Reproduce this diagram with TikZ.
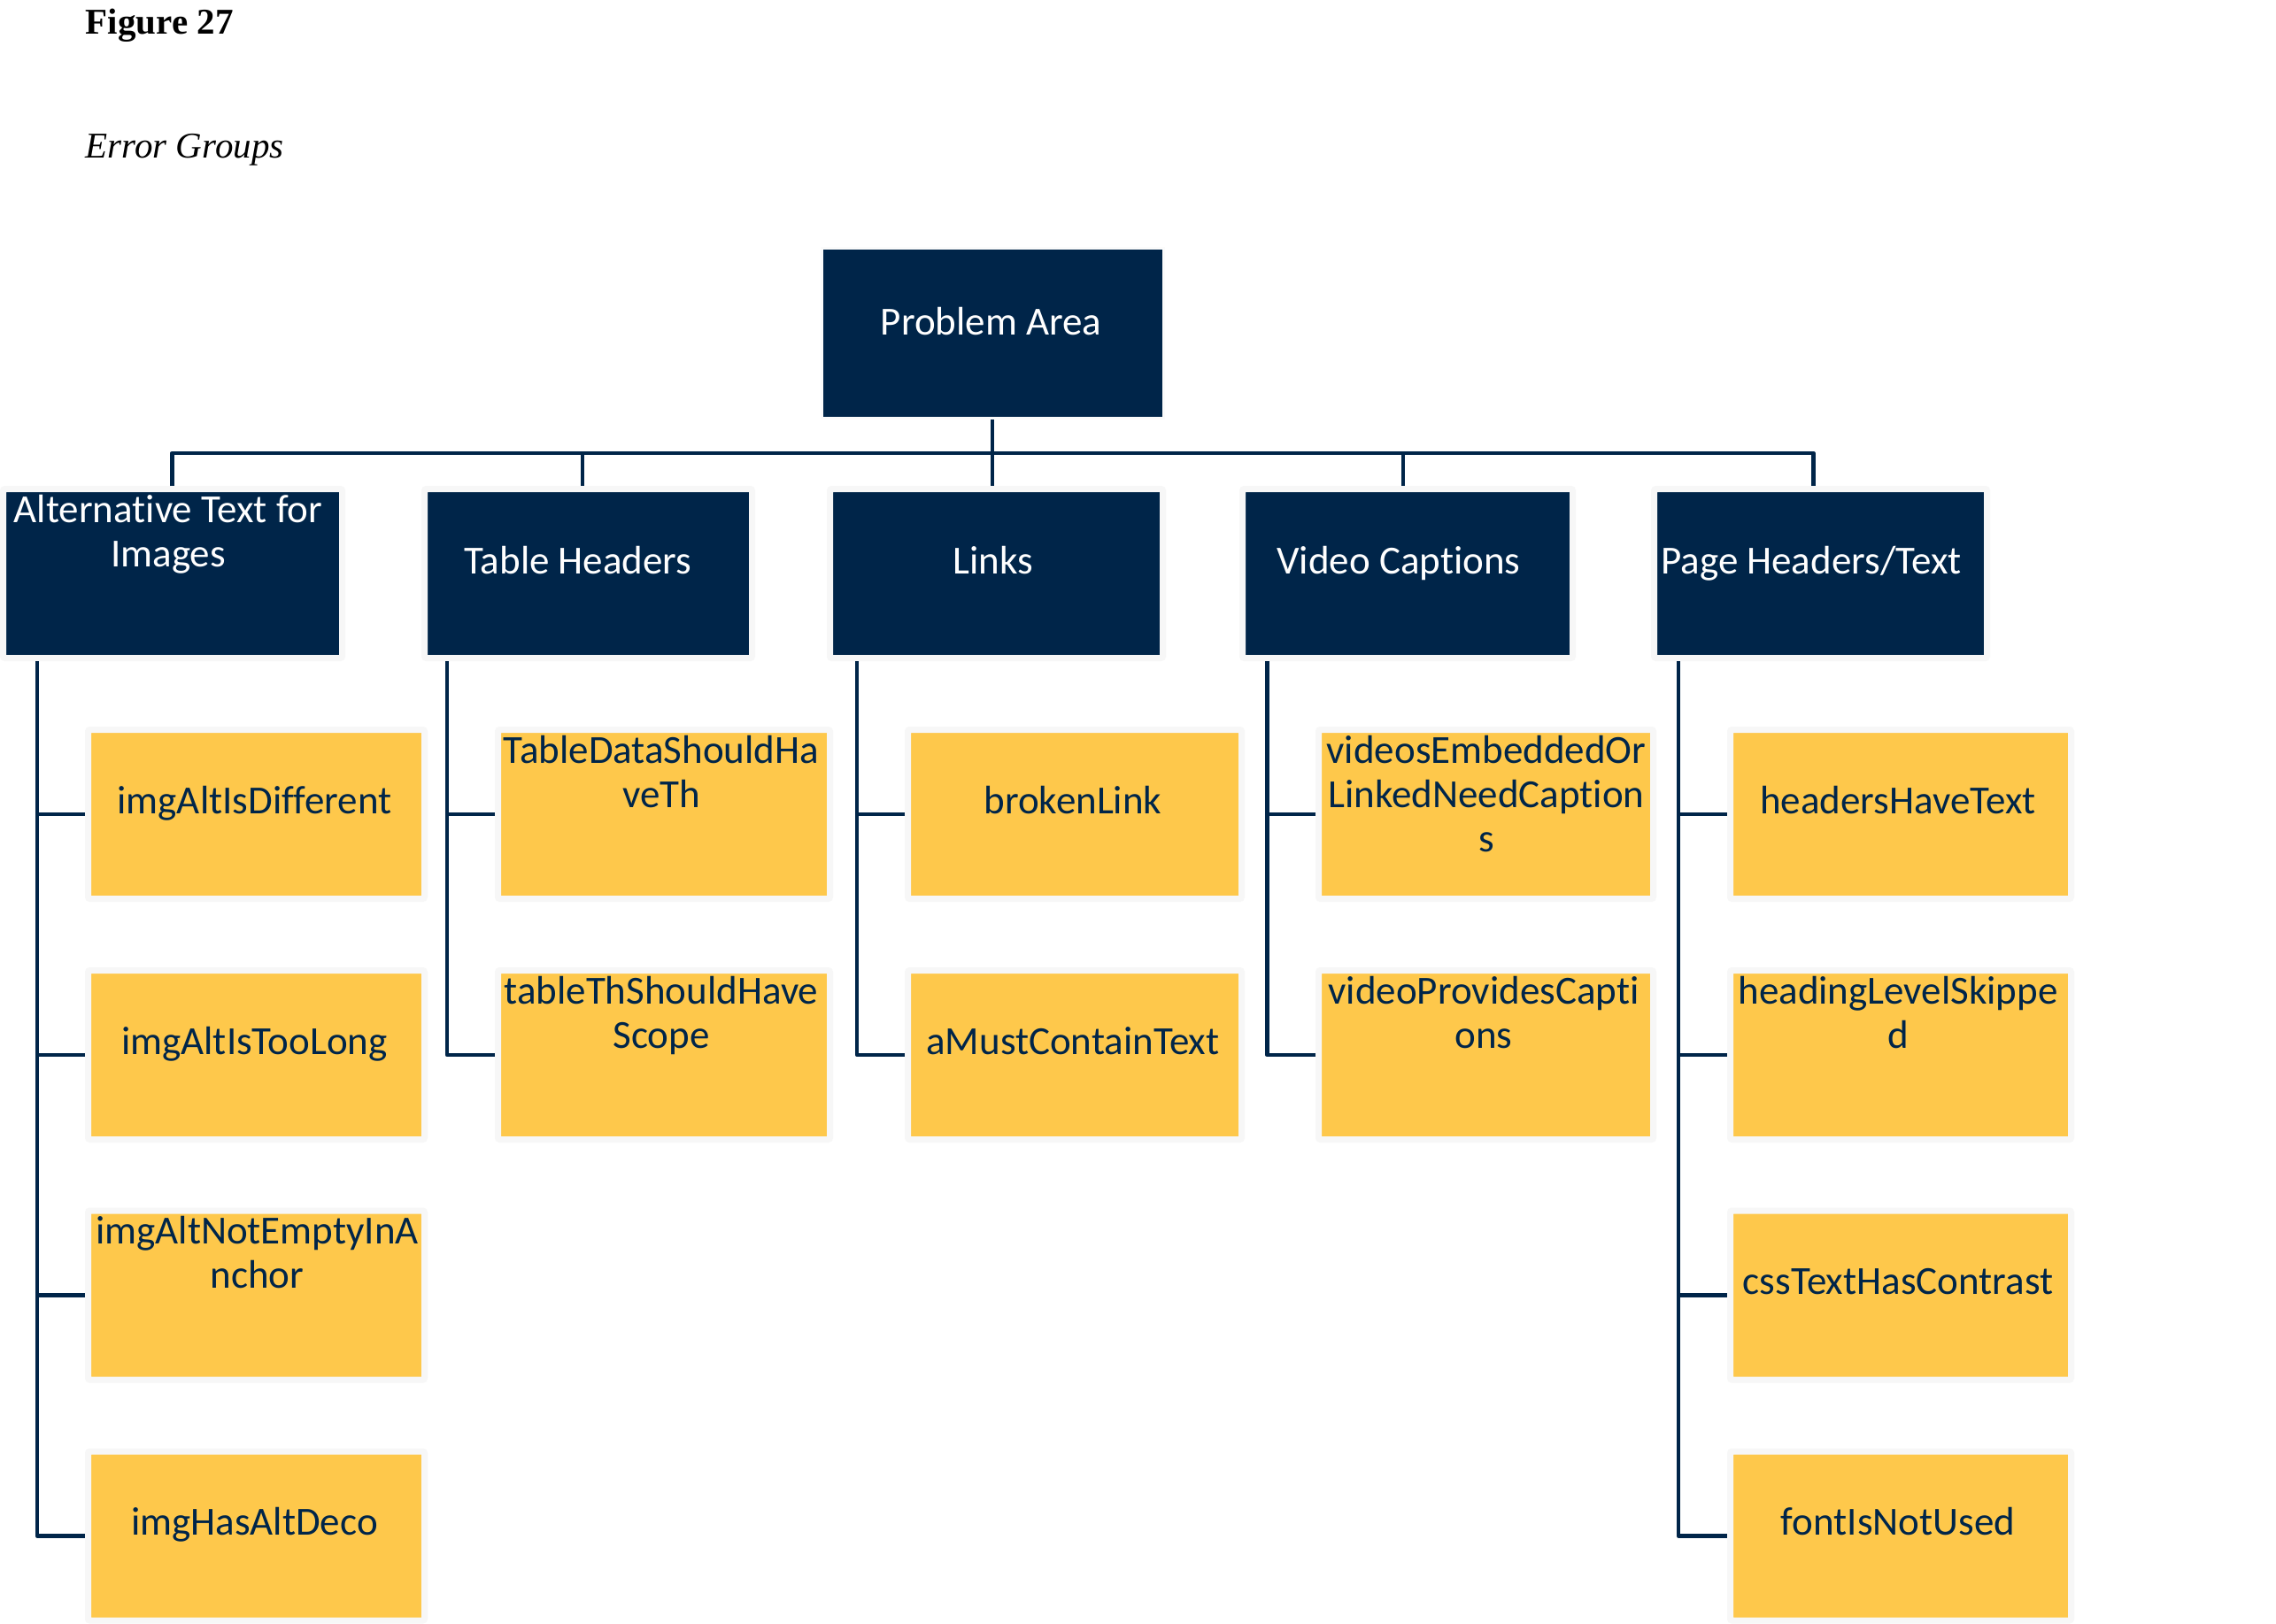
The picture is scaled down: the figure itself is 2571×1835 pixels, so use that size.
\documentclass[tikz,border=0pt]{standalone}
\usepackage{fontspec}
\setmainfont{Liberation Serif}
\newfontfamily\calibri[Ligatures={NoCommon},RawFeature={-liga;-dlig;-clig}]{Carlito}
\usetikzlibrary{calc}
\definecolor{navy}{HTML}{002549}
\definecolor{gold}{HTML}{FEC84B}
\definecolor{edgegray}{HTML}{F7F7F7}
\definecolor{edgepale}{HTML}{FBFBFB}
\begin{document}
\begin{tikzpicture}[x=1pt,y=-1pt,
  box/.style={draw=edgegray,line width=7pt,rounded corners=2pt,inner sep=0pt,minimum height=191pt},
  head/.style={box,fill=navy},
  leaf/.style={box,fill=gold},
  topbox/.style={fill=navy,draw=edgepale,line width=3pt,inner sep=0pt,minimum width=386pt,minimum height=192pt},
  conn/.style={draw=navy,line width=4.5pt,line join=round},
  txt/.style={inner sep=0pt,anchor=base,font=\calibri\fontsize{45}{50}\selectfont},
  htxt/.style={txt,text=white},
  ltxt/.style={txt,text=navy},
  ]
\fill[white] (0,0) rectangle (2571,1835);
\useasboundingbox (0,0) rectangle (2571,1835);

% titles
\node[anchor=base west,inner sep=0pt,font=\bfseries\fontsize{41}{49}\selectfont] (fig) at (96.7,39) {Figure 27};
\node[anchor=base west,inner sep=0pt,font=\itshape\fontsize{41}{49}\selectfont] (sub) at (96.7,179) {Error Groups};

% top box
\node[topbox] (pa) at (1121.5,376.5) {};
\node[htxt] (pa-t) at (1119.5,378) {Problem Area};

% level 2
\node[head,minimum width=383pt] (alt) at (195,648) {};
\node[head,minimum width=370pt] (th) at (664.5,648) {};
\node[head,minimum width=376pt] (lk) at (1125.5,648) {};
\node[head,minimum width=373pt] (vc) at (1590,648) {};
\node[head,minimum width=376pt] (ph) at (2056.5,648) {};

\node[htxt] (alt-t) at (190,590) {\parbox[t]{500pt}{\centering Alternative Text for\\Images}};
\node[htxt] (th-t) at (653,648) {Table Headers};
\node[htxt] (lk-t) at (1122,648) {Links};
\node[htxt] (vc-t) at (1580,648) {Video Captions};
\node[htxt] (ph-t) at (2046,648) {Page Headers/Text};

% leaves column 1
\node[leaf,minimum width=380pt] (l11) at (289.5,920) {};
\node[leaf,minimum width=380pt] (l12) at (289.5,1192) {};
\node[leaf,minimum width=380pt] (l13) at (289.5,1463.5) {};
\node[leaf,minimum width=380pt] (l14) at (289.5,1735.5) {};
% column 2
\node[leaf,minimum width=375pt] (l21) at (750,920) {};
\node[leaf,minimum width=375pt] (l22) at (750,1192) {};
% column 3
\node[leaf,minimum width=377pt] (l31) at (1214,920) {};
\node[leaf,minimum width=377pt] (l32) at (1214,1192) {};
% column 4
\node[leaf,minimum width=378pt] (l41) at (1678.5,920) {};
\node[leaf,minimum width=378pt] (l42) at (1678.5,1192) {};
% column 5
\node[leaf,minimum width=385pt] (l51) at (2147,920) {};
\node[leaf,minimum width=385pt] (l52) at (2147,1192) {};
\node[leaf,minimum width=385pt] (l53) at (2147,1463.5) {};
\node[leaf,minimum width=385pt] (l54) at (2147,1735.5) {};

% leaf texts
\node[ltxt] (l11-t) at (287.5,919) {imgAltIsDifferent};
\node[ltxt] (l12-t) at (287.5,1191) {imgAltIsTooLong};
\node[ltxt] (l13-t) at (290.5,1405.5) {\parbox[t]{500pt}{\centering imgAltNotEmptyInA\\nchor}};
\node[ltxt] (l14-t) at (287.5,1734.5) {imgHasAltDeco};
\node[ltxt] (l21-t) at (747,862) {\parbox[t]{500pt}{\centering TableDataShouldHa\\veTh}};
\node[ltxt] (l22-t) at (747,1134) {\parbox[t]{500pt}{\centering tableThShouldHave\\Scope}};
\node[ltxt] (l31-t) at (1212,919) {brokenLink};
\node[ltxt] (l32-t) at (1212,1191) {aMustContainText};
\node[ltxt] (l41-t) at (1679,862) {\parbox[t]{500pt}{\centering videosEmbeddedOr\\LinkedNeedCaption\\s}};
\node[ltxt] (l42-t) at (1676,1134) {\parbox[t]{500pt}{\centering videoProvidesCapti\\ons}};
\node[ltxt] (l51-t) at (2144,919) {headersHaveText};
\node[ltxt] (l52-t) at (2144,1134) {\parbox[t]{500pt}{\centering headingLevelSkippe\\d}};
\node[ltxt] (l53-t) at (2144,1462.5) {cssTextHasContrast};
\node[ltxt] (l54-t) at (2144,1734.5) {fontIsNotUsed};

% bus connectors
\coordinate (b1) at (194.3,512);
\coordinate (b2) at (658.2,512);
\coordinate (b3) at (1121,512);
\coordinate (b4) at (1585,512);
\coordinate (b5) at (2048.3,512);
\draw[conn] (b1 |- alt.north) -- (b1) -- (b5) -- (b5 |- ph.north);
\draw[conn] (b2) -- (b2 |- th.north);
\draw[conn] (pa.south -| b3) -- (b3 |- lk.north);
\draw[conn] (b4) -- (b4 |- vc.north);

% trunks
\coordinate (t1) at (41.8,747);
\coordinate (t2) at (505,747);
\coordinate (t3) at (968.2,747);
\coordinate (t4) at (1431.3,747);
\coordinate (t5) at (1895.8,747);
\draw[conn] (t1) |- (l11.west);
\draw[conn] (t1) |- (l12.west);
\draw[conn] (t1) |- (l13.west);
\draw[conn] (t1) |- (l14.west);
\draw[conn] (t2) |- (l21.west);
\draw[conn] (t2) |- (l22.west);
\draw[conn] (t3) |- (l31.west);
\draw[conn] (t3) |- (l32.west);
\draw[conn] (t4) |- (l41.west);
\draw[conn] (t4) |- (l42.west);
\draw[conn] (t5) |- (l51.west);
\draw[conn] (t5) |- (l52.west);
\draw[conn] (t5) |- (l53.west);
\draw[conn] (t5) |- (l54.west);
\end{tikzpicture}
\end{document}
